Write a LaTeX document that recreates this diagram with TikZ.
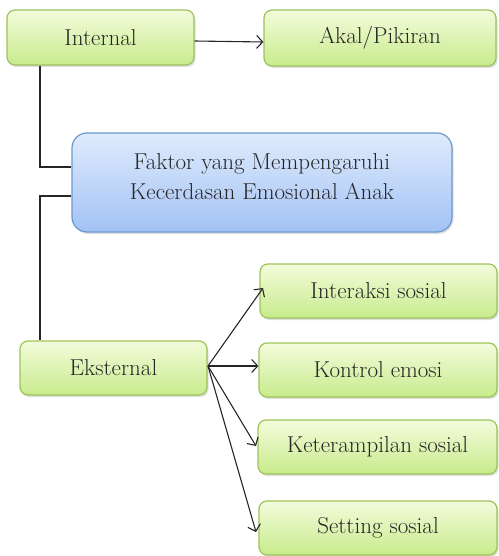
\documentclass[tikz,border=0pt]{standalone}
\usetikzlibrary{arrows.meta,shadows}
\definecolor{gtop}{HTML}{F3FCDC}
\definecolor{gbot}{HTML}{C8EB8C}
\definecolor{gline}{HTML}{9CC35A}
\definecolor{btop}{HTML}{E0EBFC}
\definecolor{bbot}{HTML}{A2C2F5}
\definecolor{bline}{HTML}{6C98D2}
\tikzset{
  gbox/.style={draw=gline, line width=1.2pt, rounded corners=8pt,
    top color=gtop, bottom color=gbot, inner sep=0pt,
    drop shadow={shadow xshift=1.5pt, shadow yshift=-2pt, opacity=0.25},
    font=\fontsize{23}{28}\selectfont, text=black!85},
  bbox/.style={draw=bline, line width=1.2pt, rounded corners=15pt,
    top color=btop, bottom color=bbot, inner sep=0pt,
    drop shadow={shadow xshift=1.5pt, shadow yshift=-2pt, opacity=0.25}},
  btext/.style={align=center, inner sep=0pt, font=\fontsize{23}{30}\selectfont, text=black!85},
  conn/.style={line width=1.1pt, black!85},
  arr/.style={conn, -{Straight Barb[length=6pt,width=13pt,line width=1.1pt]}}
}
\begin{document}
\begin{tikzpicture}[x=1pt,y=-1pt]
\useasboundingbox (0,0) rectangle (498,556);
\node[gbox, minimum width=187pt, minimum height=55pt] (int) at (100.5,37.5) {Internal};
\node[gbox, minimum width=232pt, minimum height=56pt] (akal) at (380,38) {Akal/Pikiran};
\node[bbox, minimum width=380pt, minimum height=99pt] (fak) at (262,182.5) {};
\node[btext] (faktext) at ([yshift=6pt]fak.center) {Faktor yang Mempengaruhi\\Kecerdasan Emosional Anak};
\node[gbox, minimum width=187pt, minimum height=54pt] (eks) at (113.5,368) {Eksternal};
\node[gbox, minimum width=237pt, minimum height=54pt] (inter) at (378.5,291) {Interaksi sosial};
\node[gbox, minimum width=238pt, minimum height=54pt] (kon) at (378,370) {Kontrol emosi};
\node[gbox, minimum width=239pt, minimum height=54pt] (ket) at (377.5,447) {Keterampilan sosial};
\node[gbox, minimum width=238pt, minimum height=54pt] (set) at (378,528) {Setting sosial};
\coordinate (hub) at (208,366);
\draw[arr] (int.east |- 0,41) -- (akal.west |- 0,42);
\draw[conn] (40,0 |- int.south) -- (40,167) -- (fak.west |- 0,167);
\draw[conn] (fak.west |- 0,196) -- (40,196) -- (40,0 |- eks.north);
\draw[arr] (hub) -- (263,288);
\draw[arr] (hub) -- (kon.west |- hub);
\draw[arr] (hub) -- (256,446);
\draw[arr] (hub) -- (256,532);
\end{tikzpicture}
\end{document}
